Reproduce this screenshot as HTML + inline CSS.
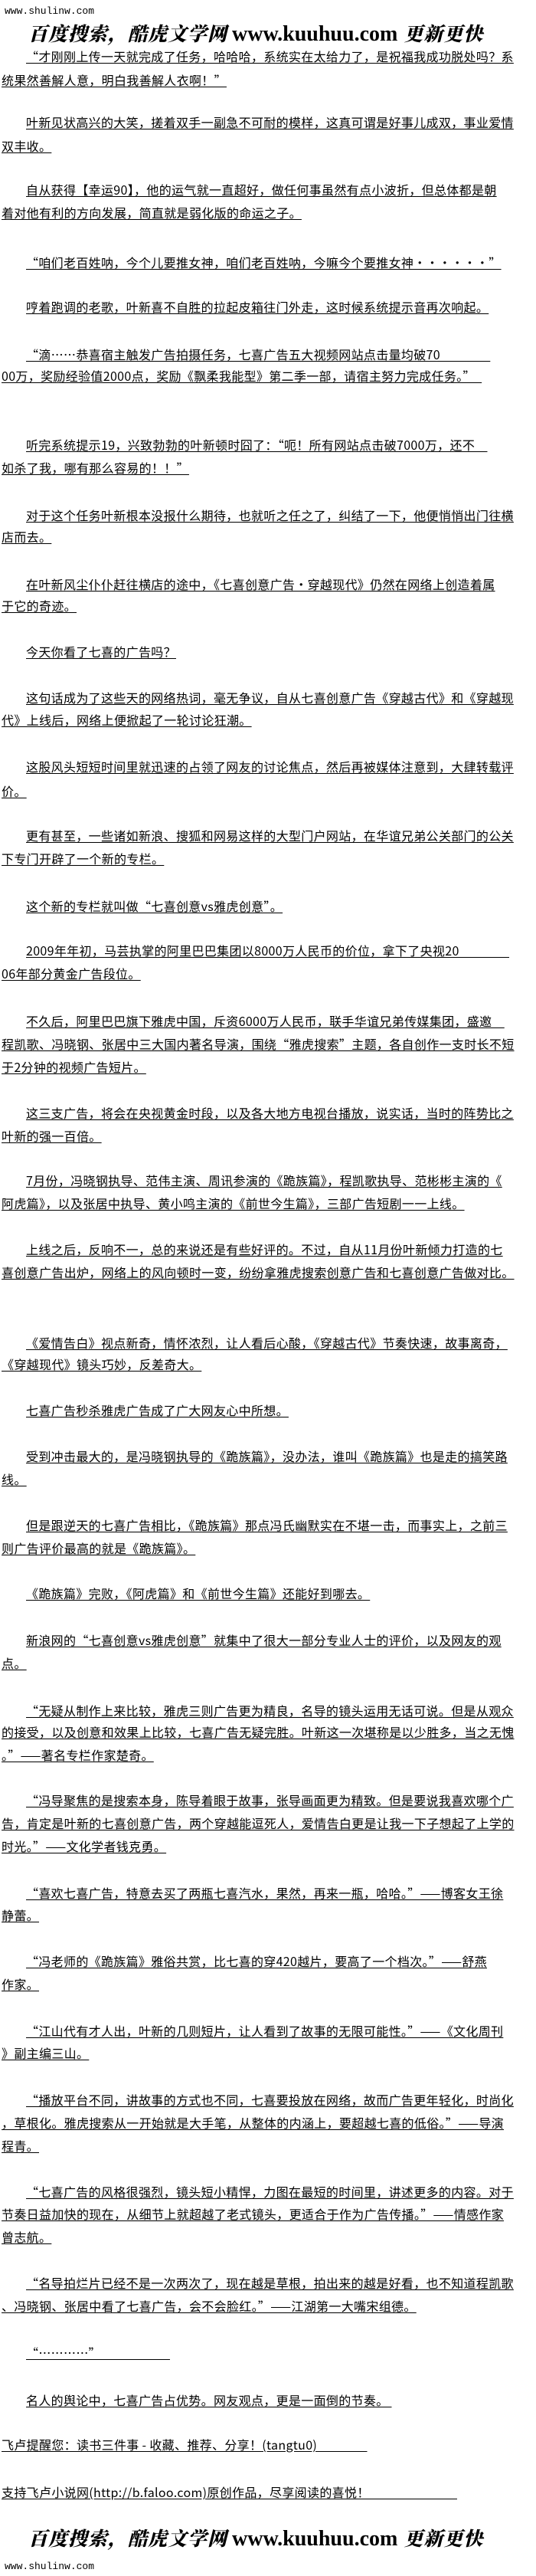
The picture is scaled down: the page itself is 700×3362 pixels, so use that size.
<!DOCTYPE html>
<html><head><meta charset="utf-8"><style>
html,body{margin:0;padding:0;background:#fff;}
body{width:700px;height:3362px;position:relative;overflow:hidden;color:#000;}
.l{position:absolute;left:2px;height:20px;line-height:20px;font-size:16px;letter-spacing:0.33px;white-space:pre;text-decoration:underline;text-underline-offset:2px;font-family:"Noto Sans CJK SC","Liberation Sans",sans-serif;}
.i{left:34px;}
.site{position:absolute;left:6px;font-family:"Liberation Mono",monospace;font-size:13px;line-height:16px;}
.logo{position:absolute;left:37px;height:32px;line-height:32px;white-space:nowrap;}
.logo .c{font-family:"Noto Serif CJK SC","WenQuanYi Zen Hei",serif;font-weight:900;font-size:25px;font-style:italic;letter-spacing:1px;}
.logo .u{font-family:"Liberation Serif",serif;font-weight:bold;font-size:28px;margin:0 8px 0 6px;}
</style></head><body>
<div class="site" style="top:7px">www.shulinw.com</div>
<div class="logo" style="top:27px"><span class="c">百度搜索，酷虎文学网</span><span class="u">www.kuuhuu.com</span><span class="c">更新更快</span></div>

<div class="l i" style="top:63px">“才刚刚上传一天就完成了任务，哈哈哈，系统实在太给力了，是祝福我成功脱处吗？系</div>
<div class="l" style="top:94px">统果然善解人意，明白我善解人衣啊！”</div>
<div class="l i" style="top:149px">叶新见状高兴的大笑，搓着双手一副急不可耐的模样，这真可谓是好事儿成双，事业爱情</div>
<div class="l" style="top:180px">双丰收。</div>
<div class="l i" style="top:237px">自从获得【幸运90】，他的运气就一直超好，做任何事虽然有点小波折，但总体都是朝</div>
<div class="l" style="top:267px">着对他有利的方向发展，简直就是弱化版的命运之子。</div>
<div class="l i" style="top:332px">“咱们老百姓呐，今个儿要推女神，咱们老百姓呐，今嘛今个要推女神······”</div>
<div class="l i" style="top:390px">哼着跑调的老歌，叶新喜不自胜的拉起皮箱往门外走，这时候系统提示音再次响起。</div>
<div class="l i" style="top:452px">“滴……恭喜宿主触发广告拍摄任务，七喜广告五大视频网站点击量均破70　　　　</div>
<div class="l" style="top:480px">00万，奖励经验值2000点，奖励《飘柔我能型》第二季一部，请宿主努力完成任务。”　</div>
<div class="l i" style="top:570px">听完系统提示19，兴致勃勃的叶新顿时囧了：“呃！所有网站点击破7000万，还不　</div>
<div class="l" style="top:600px">如杀了我，哪有那么容易的！！”</div>
<div class="l i" style="top:662px">对于这个任务叶新根本没报什么期待，也就听之任之了，纠结了一下，他便悄悄出门往横</div>
<div class="l" style="top:690px">店而去。</div>
<div class="l i" style="top:752px">在叶新风尘仆仆赶往横店的途中，《七喜创意广告·穿越现代》仍然在网络上创造着属</div>
<div class="l" style="top:780px">于它的奇迹。</div>
<div class="l i" style="top:840px">今天你看了七喜的广告吗？</div>
<div class="l i" style="top:900px">这句话成为了这些天的网络热词，毫无争议，自从七喜创意广告《穿越古代》和《穿越现</div>
<div class="l" style="top:929px">代》上线后，网络上便掀起了一轮讨论狂潮。</div>
<div class="l i" style="top:990px">这股风头短短时间里就迅速的占领了网友的讨论焦点，然后再被媒体注意到，大肆转载评</div>
<div class="l" style="top:1022px">价。</div>
<div class="l i" style="top:1080px">更有甚至，一些诸如新浪、搜狐和网易这样的大型门户网站，在华谊兄弟公关部门的公关</div>
<div class="l" style="top:1110px">下专门开辟了一个新的专栏。</div>
<div class="l i" style="top:1172px">这个新的专栏就叫做“七喜创意vs雅虎创意”。</div>
<div class="l i" style="top:1230px">2009年年初，马芸执掌的阿里巴巴集团以8000万人民币的价位，拿下了央视20　　　　</div>
<div class="l" style="top:1260px">06年部分黄金广告段位。</div>
<div class="l i" style="top:1322px">不久后，阿里巴巴旗下雅虎中国，斥资6000万人民币，联手华谊兄弟传媒集团，盛邀　</div>
<div class="l" style="top:1352px">程凯歌、冯晓钢、张居中三大国内著名导演，围绕“雅虎搜索”主题，各自创作一支时长不短</div>
<div class="l" style="top:1382px">于2分钟的视频广告短片。</div>
<div class="l i" style="top:1442px">这三支广告，将会在央视黄金时段，以及各大地方电视台播放，说实话，当时的阵势比之</div>
<div class="l" style="top:1472px">叶新的强一百倍。</div>
<div class="l i" style="top:1530px">7月份，冯晓钢执导、范伟主演、周讯参演的《跪族篇》，程凯歌执导、范彬彬主演的《</div>
<div class="l" style="top:1560px">阿虎篇》，以及张居中执导、黄小鸣主演的《前世今生篇》，三部广告短剧一一上线。</div>
<div class="l i" style="top:1620px">上线之后，反响不一，总的来说还是有些好评的。不过，自从11月份叶新倾力打造的七</div>
<div class="l" style="top:1650px">喜创意广告出炉，网络上的风向顿时一变，纷纷拿雅虎搜索创意广告和七喜创意广告做对比。</div>
<div class="l i" style="top:1742px">《爱情告白》视点新奇，情怀浓烈，让人看后心酸，《穿越古代》节奏快速，故事离奇，</div>
<div class="l" style="top:1770px">《穿越现代》镜头巧妙，反差奇大。</div>
<div class="l i" style="top:1830px">七喜广告秒杀雅虎广告成了广大网友心中所想。</div>
<div class="l i" style="top:1890px">受到冲击最大的，是冯晓钢执导的《跪族篇》，没办法，谁叫《跪族篇》也是走的搞笑路</div>
<div class="l" style="top:1920px">线。</div>
<div class="l i" style="top:1980px">但是跟逆天的七喜广告相比，《跪族篇》那点冯氏幽默实在不堪一击，而事实上，之前三</div>
<div class="l" style="top:2010px">则广告评价最高的就是《跪族篇》。</div>
<div class="l i" style="top:2069px">《跪族篇》完败，《阿虎篇》和《前世今生篇》还能好到哪去。</div>
<div class="l i" style="top:2130px">新浪网的“七喜创意vs雅虎创意”就集中了很大一部分专业人士的评价，以及网友的观</div>
<div class="l" style="top:2160px">点。</div>
<div class="l i" style="top:2222px">“无疑从制作上来比较，雅虎三则广告更为精良，名导的镜头运用无话可说。但是从观众</div>
<div class="l" style="top:2250px">的接受，以及创意和效果上比较，七喜广告无疑完胜。叶新这一次堪称是以少胜多，当之无愧</div>
<div class="l" style="top:2280px">。”——著名专栏作家楚奇。</div>
<div class="l i" style="top:2339px">“冯导聚焦的是搜索本身，陈导着眼于故事，张导画面更为精致。但是要说我喜欢哪个广</div>
<div class="l" style="top:2369px">告，肯定是叶新的七喜创意广告，两个穿越能逗死人，爱情告白更是让我一下子想起了上学的</div>
<div class="l" style="top:2399px">时光。”——文化学者钱克勇。</div>
<div class="l i" style="top:2460px">“喜欢七喜广告，特意去买了两瓶七喜汽水，果然，再来一瓶，哈哈。”——博客女王徐</div>
<div class="l" style="top:2489px">静蕾。</div>
<div class="l i" style="top:2549px">“冯老师的《跪族篇》雅俗共赏，比七喜的穿420越片，要高了一个档次。”——舒燕</div>
<div class="l" style="top:2579px">作家。</div>
<div class="l i" style="top:2640px">“江山代有才人出，叶新的几则短片，让人看到了故事的无限可能性。”——《文化周刊</div>
<div class="l" style="top:2669px">》副主编三山。</div>
<div class="l i" style="top:2730px">“播放平台不同，讲故事的方式也不同，七喜要投放在网络，故而广告更年轻化，时尚化</div>
<div class="l" style="top:2760px">，草根化。雅虎搜索从一开始就是大手笔，从整体的内涵上，要超越七喜的低俗。”——导演</div>
<div class="l" style="top:2790px">程青。</div>
<div class="l i" style="top:2850px">“七喜广告的风格很强烈，镜头短小精悍，力图在最短的时间里，讲述更多的内容。对于</div>
<div class="l" style="top:2879px">节奏日益加快的现在，从细节上就超越了老式镜头，更适合于作为广告传播。”——情感作家</div>
<div class="l" style="top:2909px">曾志航。</div>
<div class="l i" style="top:2969px">“名导拍烂片已经不是一次两次了，现在越是草根，拍出来的越是好看，也不知道程凯歌</div>
<div class="l" style="top:2999px">、冯晓钢、张居中看了七喜广告，会不会脸红。”——江湖第一大嘴宋组德。</div>
<div class="l i" style="top:3060px">“…………”　　　　　　</div>
<div class="l i" style="top:3122px">名人的舆论中，七喜广告占优势。网友观点，更是一面倒的节奏。 </div>
<div class="l" style="top:3180px">飞卢提醒您：读书三件事 - 收藏、推荐、分享！(tangtu0)　　　　</div>
<div class="l" style="top:3242px">支持飞卢小说网(http://b.faloo.com)原创作品，尽享阅读的喜悦！　　　　　　　</div>

<div class="logo" style="top:3296px"><span class="c">百度搜索，酷虎文学网</span><span class="u">www.kuuhuu.com</span><span class="c">更新更快</span></div>
<div class="site" style="top:3342px">www.shulinw.com</div>
</body></html>
